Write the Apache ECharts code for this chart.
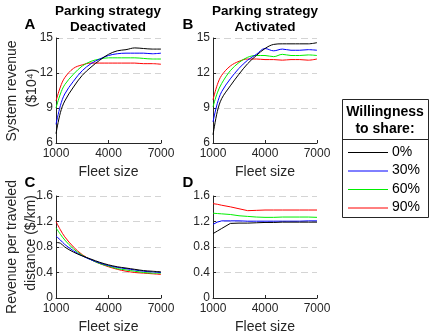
<!DOCTYPE html>
<html><head><meta charset="utf-8">
<script src="https://cdn.jsdelivr.net/npm/echarts@6/dist/echarts.min.js"></script>
<style>html,body{margin:0;padding:0;background:#fff}#c{width:434px;height:335px}</style>
</head><body><div id="c"></div>
<script>
const fleet = [1000,1250,1500,2000,2500,3000,3500,4000,4500,5000,5500,6000,6500,7000];
const shareLevels = ['0%','30%','60%','90%'];
const colors = ['#000000','#0000ff','#00ee00','#ff0000'];

// A: system revenue, parking deactivated ($10^4)
const revDeact = [
  [6.8,8.6,9.6,10.8,11.8,12.5,13.1,13.6,13.9,14.0,14.15,14.1,14.05,14.05],
  [7.6,9.2,10.2,11.3,12.2,12.8,13.2,13.5,13.65,13.7,13.7,13.7,13.65,13.7],
  [9.0,10.2,11.0,11.9,12.6,13.0,13.2,13.3,13.3,13.3,13.3,13.25,13.2,13.2],
  [9.6,10.8,11.6,12.4,12.7,12.85,12.85,12.85,12.85,12.85,12.85,12.8,12.8,12.75]
];
// B: system revenue, parking activated
const revAct = [
  [6.7,8.7,9.8,10.9,11.9,12.8,13.5,14.1,14.45,14.5,14.5,14.5,14.5,14.6],
  [7.8,9.4,10.4,11.5,12.4,13.1,13.6,14.1,13.9,14.05,13.95,13.95,14.0,13.95],
  [9.1,10.3,11.1,12.2,12.9,13.35,13.5,13.5,13.4,13.6,13.5,13.5,13.55,13.5],
  [9.7,11.0,11.8,12.6,13.0,13.2,13.2,13.15,13.15,13.1,13.15,13.15,13.1,13.2]
];
// C: revenue per traveled distance, deactivated ($/km)
const rpdDeact = [
  [0.87,0.86,0.80,0.72,0.66,0.61,0.56,0.52,0.49,0.47,0.45,0.43,0.42,0.41],
  [0.97,0.91,0.84,0.74,0.66,0.60,0.55,0.51,0.48,0.46,0.44,0.42,0.41,0.40],
  [1.10,1.00,0.91,0.77,0.67,0.60,0.54,0.50,0.46,0.44,0.42,0.40,0.39,0.39],
  [1.20,1.07,0.96,0.80,0.68,0.60,0.54,0.49,0.45,0.42,0.40,0.39,0.38,0.37]
];
// D: revenue per traveled distance, activated
const rpdAct = [
  [1.01,1.05,1.09,1.17,1.175,1.175,1.18,1.185,1.185,1.19,1.19,1.19,1.19,1.19],
  [1.155,1.19,1.21,1.21,1.21,1.205,1.205,1.205,1.205,1.205,1.205,1.205,1.21,1.21],
  [1.33,1.325,1.32,1.31,1.29,1.28,1.27,1.265,1.265,1.27,1.27,1.27,1.27,1.265],
  [1.48,1.47,1.455,1.43,1.40,1.37,1.375,1.38,1.38,1.38,1.38,1.38,1.38,1.38]
];
const xTicks = [1000,4000,7000];

const axisColor = '#262626';
const font = 'Liberation Sans, Arial, sans-serif';
const grids = [
  {left:56, top:38, width:105, height:105},
  {left:213, top:38, width:104, height:105},
  {left:56, top:196, width:105, height:103},
  {left:213, top:196, width:104, height:103}
];
function xAxis(i){
  return {type:'value', gridIndex:i, min:1000, max:7000,
    name:'Fleet size', nameLocation:'middle', nameGap:22,
    nameTextStyle:{fontSize:14, color:axisColor, fontFamily:font},
    axisLine:{lineStyle:{color:axisColor, width:1}},
    axisTick:{inside:true, length:3, customValues:xTicks, lineStyle:{color:axisColor}},
    axisLabel:{customValues:xTicks, fontSize:12, color:axisColor, fontFamily:font, margin:5, formatter:v=>String(v)},
    splitLine:{show:false}};
}
function yAxis(i, min, max, interval, fmt){
  return {type:'value', gridIndex:i, min:min, max:max, interval:interval,
    axisLine:{show:true, lineStyle:{color:axisColor, width:1}},
    axisTick:{show:true, inside:true, length:3, lineStyle:{color:axisColor}},
    axisLabel:{fontSize:12, color:axisColor, fontFamily:font, margin:3, formatter:fmt},
    splitLine:{show:true, lineStyle:{color:'#d4d4d4', type:[7,4], width:1}}};
}
const series = [];
const panels = [revDeact, revAct, rpdDeact, rpdAct];
panels.forEach((p, gi) => {
  p.forEach((vals, si) => {
    series.push({type:'line', name:shareLevels[si], xAxisIndex:gi, yAxisIndex:gi,
      data: fleet.map((x,k)=>[x, vals[k]]), symbol:'none', smooth: gi===3 ? false : 0.35,
      lineStyle:{width:1, color:colors[si]}, itemStyle:{color:colors[si]}, z: 10-si});
  });
});
const bold = s => 'bold '+s+'px Liberation Sans, Arial, sans-serif';
const reg = s => s+'px Liberation Sans, Arial, sans-serif';
const graphic = [
  {type:'text', x:108, y:11, style:{text:'Parking strategy', align:'center', verticalAlign:'middle', font:bold(13.5), fill:'#000'}},
  {type:'text', x:108, y:27, style:{text:'Deactivated', align:'center', verticalAlign:'middle', font:bold(13.5), fill:'#000'}},
  {type:'text', x:265, y:11, style:{text:'Parking strategy', align:'center', verticalAlign:'middle', font:bold(13.5), fill:'#000'}},
  {type:'text', x:265, y:27, style:{text:'Activated', align:'center', verticalAlign:'middle', font:bold(13.5), fill:'#000'}},
  {type:'text', x:30, y:25, style:{text:'A', align:'center', verticalAlign:'middle', font:bold(15), fill:'#000'}},
  {type:'text', x:188, y:25, style:{text:'B', align:'center', verticalAlign:'middle', font:bold(15), fill:'#000'}},
  {type:'text', x:30, y:183, style:{text:'C', align:'center', verticalAlign:'middle', font:bold(15), fill:'#000'}},
  {type:'text', x:188, y:183, style:{text:'D', align:'center', verticalAlign:'middle', font:bold(15), fill:'#000'}},
  {type:'text', x:12, y:91, rotation:Math.PI/2, style:{text:'System revenue', align:'center', verticalAlign:'middle', font:reg(14), fill:axisColor}},
  {type:'text', x:32, y:88, rotation:Math.PI/2, style:{text:'($10⁴)', align:'center', verticalAlign:'middle', font:reg(14), fill:axisColor}},
  {type:'text', x:12, y:247, rotation:Math.PI/2, style:{text:'Revenue per traveled', align:'center', verticalAlign:'middle', font:reg(14), fill:axisColor}},
  {type:'text', x:31, y:243, rotation:Math.PI/2, style:{text:'distance ($/km)', align:'center', verticalAlign:'middle', font:reg(14), fill:axisColor}},
  {type:'rect', shape:{x:342.5, y:99.5, width:86, height:118}, style:{fill:'#fff', stroke:axisColor, lineWidth:1}},
  {type:'line', shape:{x1:342.5, y1:139.5, x2:428.5, y2:139.5}, style:{stroke:axisColor, lineWidth:1}},
  {type:'text', x:385, y:112.5, style:{text:'Willingness', align:'center', verticalAlign:'middle', font:bold(14), fill:'#000'}},
  {type:'text', x:385, y:129.5, style:{text:'to share:', align:'center', verticalAlign:'middle', font:bold(14), fill:'#000'}}
];
const rowY = [152, 170.5, 189, 207.5];
shareLevels.forEach((lab, i) => {
  graphic.push({type:'line', shape:{x1:348, y1:rowY[i]+0.5, x2:388, y2:rowY[i]+0.5}, style:{stroke:colors[i], lineWidth:1}, z:100});
  graphic.push({type:'text', x:392, y:rowY[i], style:{text:lab, align:'left', verticalAlign:'middle', font:reg(14), fill:'#000'}, z:100});
});
const option = {
  animation:false,
  grid: grids,
  xAxis: [0,1,2,3].map(xAxis),
  yAxis: [
    yAxis(0,6,15,3, v=>String(v)),
    yAxis(1,6,15,3, v=>String(v)),
    yAxis(2,0,1.6,0.4, v=>v===0?'0':v.toFixed(1)),
    yAxis(3,0,1.6,0.4, v=>v===0?'0':v.toFixed(1))
  ],
  series: series,
  graphic: graphic
};
const chart = echarts.init(document.getElementById('c'), null, {renderer:'canvas'});
chart.setOption(option);
</script></body></html>
